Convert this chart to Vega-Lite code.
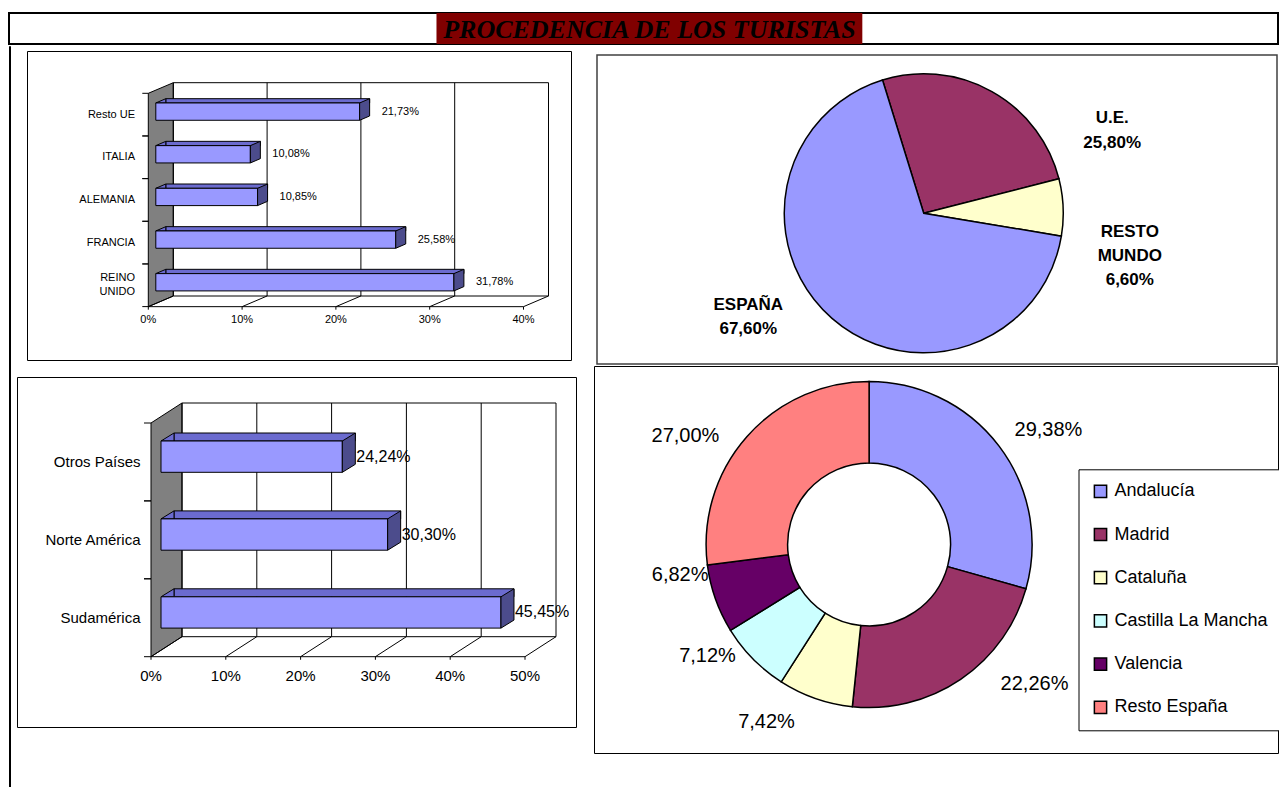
{
  "$schema": "https://vega.github.io/schema/vega-lite/v6.json",
  "padding": {"left": 8, "top": 12, "right": 0, "bottom": 0},
  "background": "white",
  "config": {
    "view": {"stroke": null},
    "font": "Liberation Sans",
    "concat": {"spacing": 0},
    "locale": {"number": {"decimal": ",", "thousands": ".", "grouping": [3], "currency": ["", " €"]}},
    "axis": {"disable": true}
  },
  "datasets": {
    "titulo": [{"titulo": "PROCEDENCIA DE LOS TURISTAS"}],
    "europa": [
      {"pais": "Resto UE", "pct": 0.2173},
      {"pais": "ITALIA", "pct": 0.1008},
      {"pais": "ALEMANIA", "pct": 0.1085},
      {"pais": "FRANCIA", "pct": 0.2558},
      {"pais": "REINO UNIDO", "pct": 0.3178}
    ],
    "marcas_eu": [{"v": 0}, {"v": 0.1}, {"v": 0.2}, {"v": 0.3}, {"v": 0.4}],
    "america": [
      {"zona": "Otros Países", "pct": 0.2424},
      {"zona": "Norte América", "pct": 0.3030},
      {"zona": "Sudamérica", "pct": 0.4545}
    ],
    "marcas_am": [{"v": 0}, {"v": 0.1}, {"v": 0.2}, {"v": 0.3}, {"v": 0.4}, {"v": 0.5}],
    "procedencia": [
      {"origen": "U.E.", "pct": 0.258, "orden": 1},
      {"origen": "RESTO MUNDO", "pct": 0.066, "orden": 2},
      {"origen": "ESPAÑA", "pct": 0.676, "orden": 3}
    ],
    "espana": [
      {"comunidad": "Andalucía", "pct": 0.2938, "orden": 1},
      {"comunidad": "Madrid", "pct": 0.2226, "orden": 2},
      {"comunidad": "Cataluña", "pct": 0.0742, "orden": 3},
      {"comunidad": "Castilla La Mancha", "pct": 0.0712, "orden": 4},
      {"comunidad": "Valencia", "pct": 0.0682, "orden": 5},
      {"comunidad": "Resto España", "pct": 0.27, "orden": 6}
    ]
  },
  "spacing": 0,
  "resolve": {"scale": {"x": "independent", "y": "independent", "color": "independent", "theta": "independent"}, "legend": {"color": "independent"}},
  "vconcat": [
    {
      "width": 1269, "height": 31,
      "view": {"stroke": "black", "strokeWidth": 2},
      "data": {"name": "titulo"},
      "encoding": {"x": {"field": "titulo", "type": "nominal", "axis": null, "scale": {"paddingInner": 0, "paddingOuter": 0.99, "align": 0.507}}},
      "layer": [
        {"mark": {"type": "rect", "fill": "#800000"}},
        {"mark": {"type": "text", "font": "Liberation Serif", "fontSize": 26, "fontWeight": "bold", "fontStyle": "italic", "color": "black", "baseline": "middle", "dy": 1}, "encoding": {"text": {"field": "titulo"}}}
      ]
    },
    {
      "spacing": 0,
      "resolve": {"scale": {"x": "independent", "y": "independent", "color": "independent", "theta": "independent"}, "legend": {"color": "independent"}},
      "hconcat": [
        {"width": 1, "height": 741, "view": {"stroke": "black", "strokeWidth": 1}, "data": {"values": [{}]}, "mark": {"type": "rect", "opacity": 0}},
        {
          "spacing": 0,
          "resolve": {"scale": {"x": "independent", "y": "independent", "color": "independent", "theta": "independent"}, "legend": {"color": "independent"}},
          "vconcat": [
            {"width": 1, "height": 4, "data": {"values": [{}]}, "mark": {"type": "rect", "opacity": 0}},
            {
              "spacing": 0,
              "resolve": {"scale": {"x": "independent", "y": "independent", "color": "independent", "theta": "independent"}},
              "hconcat": [
                {"width": 15, "height": 1, "data": {"values": [{}]}, "mark": {"type": "rect", "opacity": 0}},
                {
                  "width": 544, "height": 309,
                  "view": {"stroke": "black", "strokeWidth": 1},
                  "data": {"name": "europa"},
                  "layer": [
                    {"data": {"values": [{}]},
                     "mark": {"type": "point", "shape": "M-7.5,-96.05L17.5,-106.65L17.5,106.65L-7.5,117.35Z", "size": 4, "filled": true, "fill": "#808080", "stroke": "black", "strokeWidth": 1, "opacity": 1},
                     "encoding": {
                       "x": {"datum": 0, "type": "quantitative", "scale": {"type": "linear", "domain": [0, 0.4], "range": [128.8, 504], "nice": false, "zero": false}},
                       "y": {"datum": "ALEMANIA", "type": "nominal", "scale": {"type": "band", "domain": ["Resto UE", "ITALIA", "ALEMANIA", "FRANCIA", "REINO UNIDO"], "range": [31.7, 245], "paddingInner": 0, "paddingOuter": 0}}}},
                    {"data": {"name": "marcas_eu"},
                     "mark": {"type": "rule", "color": "black", "strokeWidth": 1, "xOffset": 17.5, "yOffset": -21.33, "y2Offset": 21.33},
                     "encoding": {
                       "x": {"field": "v", "type": "quantitative", "scale": {"type": "linear", "domain": [0, 0.4], "range": [128.8, 504], "nice": false, "zero": false}},
                       "y": {"datum": "Resto UE", "type": "nominal", "scale": {"type": "band", "domain": ["Resto UE", "ITALIA", "ALEMANIA", "FRANCIA", "REINO UNIDO"], "range": [31.7, 245], "paddingInner": 0, "paddingOuter": 0}},
                       "y2": {"datum": "REINO UNIDO"}}},
                    {"data": {"values": [{}]},
                     "mark": {"type": "rule", "color": "black", "strokeWidth": 1, "xOffset": 17.5, "x2Offset": 17.5, "yOffset": -21.33},
                     "encoding": {
                       "x": {"datum": 0, "type": "quantitative", "scale": {"type": "linear", "domain": [0, 0.4], "range": [128.8, 504], "nice": false, "zero": false}},
                       "x2": {"datum": 0.4},
                       "y": {"datum": "Resto UE", "type": "nominal", "scale": {"type": "band", "domain": ["Resto UE", "ITALIA", "ALEMANIA", "FRANCIA", "REINO UNIDO"], "range": [31.7, 245], "paddingInner": 0, "paddingOuter": 0}}}},
                    {"data": {"values": [{}]},
                     "mark": {"type": "rule", "color": "black", "strokeWidth": 1, "xOffset": -7.5, "x2Offset": -7.5, "yOffset": 32},
                     "encoding": {
                       "x": {"datum": 0, "type": "quantitative", "scale": {"type": "linear", "domain": [0, 0.4], "range": [128.8, 504], "nice": false, "zero": false}},
                       "x2": {"datum": 0.4},
                       "y": {"datum": "REINO UNIDO", "type": "nominal", "scale": {"type": "band", "domain": ["Resto UE", "ITALIA", "ALEMANIA", "FRANCIA", "REINO UNIDO"], "range": [31.7, 245], "paddingInner": 0, "paddingOuter": 0}}}},
                    {"data": {"values": [{}]},
                     "mark": {"type": "rule", "color": "black", "strokeWidth": 1, "xOffset": 17.5, "x2Offset": 17.5, "yOffset": 21.33},
                     "encoding": {
                       "x": {"datum": 0, "type": "quantitative", "scale": {"type": "linear", "domain": [0, 0.4], "range": [128.8, 504], "nice": false, "zero": false}},
                       "x2": {"datum": 0.4},
                       "y": {"datum": "REINO UNIDO", "type": "nominal", "scale": {"type": "band", "domain": ["Resto UE", "ITALIA", "ALEMANIA", "FRANCIA", "REINO UNIDO"], "range": [31.7, 245], "paddingInner": 0, "paddingOuter": 0}}}},
                    {"data": {"name": "marcas_eu"},
                     "mark": {"type": "point", "shape": "M-7.5,32L17.5,21.33M-7.5,32L-7.5,35", "size": 4, "filled": false, "stroke": "black", "strokeWidth": 1, "opacity": 1},
                     "encoding": {
                       "x": {"field": "v", "type": "quantitative", "scale": {"type": "linear", "domain": [0, 0.4], "range": [128.8, 504], "nice": false, "zero": false}},
                       "y": {"datum": "REINO UNIDO", "type": "nominal", "scale": {"type": "band", "domain": ["Resto UE", "ITALIA", "ALEMANIA", "FRANCIA", "REINO UNIDO"], "range": [31.7, 245], "paddingInner": 0, "paddingOuter": 0}}}},
                    {"data": {"name": "marcas_eu"},
                     "mark": {"type": "text", "align": "center", "baseline": "middle", "dx": -7.5, "yOffset": 45.3, "fontSize": 11, "color": "black"},
                     "encoding": {
                       "x": {"field": "v", "type": "quantitative", "scale": {"type": "linear", "domain": [0, 0.4], "range": [128.8, 504], "nice": false, "zero": false}},
                       "y": {"datum": "REINO UNIDO", "type": "nominal", "scale": {"type": "band", "domain": ["Resto UE", "ITALIA", "ALEMANIA", "FRANCIA", "REINO UNIDO"], "range": [31.7, 245], "paddingInner": 0, "paddingOuter": 0}},
                       "text": {"field": "v", "type": "quantitative", "format": ".0%"}}},
                    {"mark": {"type": "point", "shape": "M-13.5,-10.73L-7.5,-10.73M-13.5,31.93L-7.5,31.93", "size": 4, "filled": false, "stroke": "black", "strokeWidth": 1, "opacity": 1},
                     "encoding": {
                       "x": {"datum": 0, "type": "quantitative", "scale": {"type": "linear", "domain": [0, 0.4], "range": [128.8, 504], "nice": false, "zero": false}},
                       "y": {"field": "pais", "type": "nominal", "scale": {"type": "band", "domain": ["Resto UE", "ITALIA", "ALEMANIA", "FRANCIA", "REINO UNIDO"], "range": [31.7, 245], "paddingInner": 0, "paddingOuter": 0}}}},
                    {"transform": [{"filter": "datum.pais !== 'REINO UNIDO'"}],
                     "mark": {"type": "text", "align": "right", "baseline": "middle", "dx": -20.8, "yOffset": 10.6, "fontSize": 11, "color": "black"},
                     "encoding": {
                       "x": {"datum": 0, "type": "quantitative", "scale": {"type": "linear", "domain": [0, 0.4], "range": [128.8, 504], "nice": false, "zero": false}},
                       "y": {"field": "pais", "type": "nominal", "scale": {"type": "band", "domain": ["Resto UE", "ITALIA", "ALEMANIA", "FRANCIA", "REINO UNIDO"], "range": [31.7, 245], "paddingInner": 0, "paddingOuter": 0}},
                       "text": {"field": "pais", "type": "nominal"}}},
                    {"transform": [{"filter": "datum.pais === 'REINO UNIDO'"}],
                     "mark": {"type": "text", "align": "right", "baseline": "middle", "dx": -20.8, "dy": -7, "yOffset": 10.6, "fontSize": 11, "lineBreak": " ", "lineHeight": 13.4, "color": "black"},
                     "encoding": {
                       "x": {"datum": 0, "type": "quantitative", "scale": {"type": "linear", "domain": [0, 0.4], "range": [128.8, 504], "nice": false, "zero": false}},
                       "y": {"field": "pais", "type": "nominal", "scale": {"type": "band", "domain": ["Resto UE", "ITALIA", "ALEMANIA", "FRANCIA", "REINO UNIDO"], "range": [31.7, 245], "paddingInner": 0, "paddingOuter": 0}},
                       "text": {"field": "pais", "type": "nominal"}}},
                    {"mark": {"type": "bar", "size": 4.3, "xOffset": 10, "x2Offset": 10, "yOffset": -3.2, "fill": "#6B6BCF", "stroke": "black", "strokeWidth": 1},
                     "encoding": {
                       "x": {"field": "pct", "type": "quantitative", "scale": {"type": "linear", "domain": [0, 0.4], "range": [128.8, 504], "nice": false, "zero": false}},
                       "y": {"field": "pais", "type": "nominal", "scale": {"type": "band", "domain": ["Resto UE", "ITALIA", "ALEMANIA", "FRANCIA", "REINO UNIDO"], "range": [31.7, 245], "paddingInner": 0, "paddingOuter": 0}}}},
                    {"mark": {"type": "point", "shape": "M0,-8.65L10,-12.95L10,-8.65Z", "size": 4, "filled": true, "fill": "#6B6BCF", "stroke": "black", "strokeWidth": 1, "opacity": 1, "yOffset": 7.6},
                     "encoding": {
                       "x": {"datum": 0, "type": "quantitative", "scale": {"type": "linear", "domain": [0, 0.4], "range": [128.8, 504], "nice": false, "zero": false}},
                       "y": {"field": "pais", "type": "nominal", "scale": {"type": "band", "domain": ["Resto UE", "ITALIA", "ALEMANIA", "FRANCIA", "REINO UNIDO"], "range": [31.7, 245], "paddingInner": 0, "paddingOuter": 0}}}},
                    {"mark": {"type": "bar", "size": 17.3, "yOffset": 7.6, "fill": "#9999FF", "stroke": "black", "strokeWidth": 1},
                     "encoding": {
                       "x": {"field": "pct", "type": "quantitative", "scale": {"type": "linear", "domain": [0, 0.4], "range": [128.8, 504], "nice": false, "zero": false}},
                       "y": {"field": "pais", "type": "nominal", "scale": {"type": "band", "domain": ["Resto UE", "ITALIA", "ALEMANIA", "FRANCIA", "REINO UNIDO"], "range": [31.7, 245], "paddingInner": 0, "paddingOuter": 0}}}},
                    {"mark": {"type": "point", "shape": "M0,-8.65L10,-12.95L10,4.35L0,8.65Z", "size": 4, "filled": true, "fill": "#4C4C8C", "stroke": "black", "strokeWidth": 1, "opacity": 1, "yOffset": 7.6},
                     "encoding": {
                       "x": {"field": "pct", "type": "quantitative", "scale": {"type": "linear", "domain": [0, 0.4], "range": [128.8, 504], "nice": false, "zero": false}},
                       "y": {"field": "pais", "type": "nominal", "scale": {"type": "band", "domain": ["Resto UE", "ITALIA", "ALEMANIA", "FRANCIA", "REINO UNIDO"], "range": [31.7, 245], "paddingInner": 0, "paddingOuter": 0}}}},
                    {"mark": {"type": "text", "align": "left", "baseline": "middle", "dx": 22, "yOffset": 7.6, "fontSize": 11, "color": "black"},
                     "encoding": {
                       "x": {"field": "pct", "type": "quantitative", "scale": {"type": "linear", "domain": [0, 0.4], "range": [128.8, 504], "nice": false, "zero": false}},
                       "y": {"field": "pais", "type": "nominal", "scale": {"type": "band", "domain": ["Resto UE", "ITALIA", "ALEMANIA", "FRANCIA", "REINO UNIDO"], "range": [31.7, 245], "paddingInner": 0, "paddingOuter": 0}},
                       "text": {"field": "pct", "type": "quantitative", "format": ".2%"}}}
                  ]
                }
              ]
            },
            {"width": 1, "height": 15, "data": {"values": [{}]}, "mark": {"type": "rect", "opacity": 0}},
            {
              "spacing": 0,
              "resolve": {"scale": {"x": "independent", "y": "independent", "color": "independent", "theta": "independent"}},
              "hconcat": [
                {"width": 5, "height": 1, "data": {"values": [{}]}, "mark": {"type": "rect", "opacity": 0}},
                {
                  "width": 559, "height": 350,
                  "view": {"stroke": "black", "strokeWidth": 1},
                  "data": {"name": "america"},
                  "layer": [
                    {"data": {"values": [{}]},
                     "mark": {"type": "point", "shape": "M-10,-96.85L21,-116.85L21,116.85L-10,136.85Z", "size": 4, "filled": true, "fill": "#808080", "stroke": "black", "strokeWidth": 1, "opacity": 1},
                     "encoding": {
                       "x": {"datum": 0, "type": "quantitative", "scale": {"type": "linear", "domain": [0, 0.5], "range": [144, 518], "nice": false, "zero": false}},
                       "y": {"datum": "Norte América", "type": "nominal", "scale": {"type": "band", "domain": ["Otros Países", "Norte América", "Sudamérica"], "range": [26, 259.7], "paddingInner": 0, "paddingOuter": 0}}}},
                    {"data": {"name": "marcas_am"},
                     "mark": {"type": "rule", "color": "black", "strokeWidth": 1, "xOffset": 21, "yOffset": -38.95, "y2Offset": 38.95},
                     "encoding": {
                       "x": {"field": "v", "type": "quantitative", "scale": {"type": "linear", "domain": [0, 0.5], "range": [144, 518], "nice": false, "zero": false}},
                       "y": {"datum": "Otros Países", "type": "nominal", "scale": {"type": "band", "domain": ["Otros Países", "Norte América", "Sudamérica"], "range": [26, 259.7], "paddingInner": 0, "paddingOuter": 0}},
                       "y2": {"datum": "Sudamérica"}}},
                    {"data": {"values": [{}]},
                     "mark": {"type": "rule", "color": "black", "strokeWidth": 1, "xOffset": 21, "x2Offset": 21, "yOffset": -38.95},
                     "encoding": {
                       "x": {"datum": 0, "type": "quantitative", "scale": {"type": "linear", "domain": [0, 0.5], "range": [144, 518], "nice": false, "zero": false}},
                       "x2": {"datum": 0.5},
                       "y": {"datum": "Otros Países", "type": "nominal", "scale": {"type": "band", "domain": ["Otros Países", "Norte América", "Sudamérica"], "range": [26, 259.7], "paddingInner": 0, "paddingOuter": 0}}}},
                    {"data": {"values": [{}]},
                     "mark": {"type": "rule", "color": "black", "strokeWidth": 1, "xOffset": -10, "x2Offset": -10, "yOffset": 58.95},
                     "encoding": {
                       "x": {"datum": 0, "type": "quantitative", "scale": {"type": "linear", "domain": [0, 0.5], "range": [144, 518], "nice": false, "zero": false}},
                       "x2": {"datum": 0.5},
                       "y": {"datum": "Sudamérica", "type": "nominal", "scale": {"type": "band", "domain": ["Otros Países", "Norte América", "Sudamérica"], "range": [26, 259.7], "paddingInner": 0, "paddingOuter": 0}}}},
                    {"data": {"values": [{}]},
                     "mark": {"type": "rule", "color": "black", "strokeWidth": 1, "xOffset": 21, "x2Offset": 21, "yOffset": 38.95},
                     "encoding": {
                       "x": {"datum": 0, "type": "quantitative", "scale": {"type": "linear", "domain": [0, 0.5], "range": [144, 518], "nice": false, "zero": false}},
                       "x2": {"datum": 0.5},
                       "y": {"datum": "Sudamérica", "type": "nominal", "scale": {"type": "band", "domain": ["Otros Países", "Norte América", "Sudamérica"], "range": [26, 259.7], "paddingInner": 0, "paddingOuter": 0}}}},
                    {"data": {"name": "marcas_am"},
                     "mark": {"type": "point", "shape": "M-10,58.95L21,38.95M-10,58.95L-10,62", "size": 4, "filled": false, "stroke": "black", "strokeWidth": 1, "opacity": 1},
                     "encoding": {
                       "x": {"field": "v", "type": "quantitative", "scale": {"type": "linear", "domain": [0, 0.5], "range": [144, 518], "nice": false, "zero": false}},
                       "y": {"datum": "Sudamérica", "type": "nominal", "scale": {"type": "band", "domain": ["Otros Países", "Norte América", "Sudamérica"], "range": [26, 259.7], "paddingInner": 0, "paddingOuter": 0}}}},
                    {"data": {"name": "marcas_am"},
                     "mark": {"type": "text", "align": "center", "baseline": "middle", "dx": -10, "yOffset": 78.25, "fontSize": 15, "color": "black"},
                     "encoding": {
                       "x": {"field": "v", "type": "quantitative", "scale": {"type": "linear", "domain": [0, 0.5], "range": [144, 518], "nice": false, "zero": false}},
                       "y": {"datum": "Sudamérica", "type": "nominal", "scale": {"type": "band", "domain": ["Otros Países", "Norte América", "Sudamérica"], "range": [26, 259.7], "paddingInner": 0, "paddingOuter": 0}},
                       "text": {"field": "v", "type": "quantitative", "format": ".0%"}}},
                    {"mark": {"type": "point", "shape": "M-17,-18.95L-10,-18.95M-17,58.95L-10,58.95", "size": 4, "filled": false, "stroke": "black", "strokeWidth": 1, "opacity": 1},
                     "encoding": {
                       "x": {"datum": 0, "type": "quantitative", "scale": {"type": "linear", "domain": [0, 0.5], "range": [144, 518], "nice": false, "zero": false}},
                       "y": {"field": "zona", "type": "nominal", "scale": {"type": "band", "domain": ["Otros Países", "Norte América", "Sudamérica"], "range": [26, 259.7], "paddingInner": 0, "paddingOuter": 0}}}},
                    {"mark": {"type": "text", "align": "right", "baseline": "middle", "dx": -20.5, "yOffset": 20, "fontSize": 15, "color": "black"},
                     "encoding": {
                       "x": {"datum": 0, "type": "quantitative", "scale": {"type": "linear", "domain": [0, 0.5], "range": [144, 518], "nice": false, "zero": false}},
                       "y": {"field": "zona", "type": "nominal", "scale": {"type": "band", "domain": ["Otros Países", "Norte América", "Sudamérica"], "range": [26, 259.7], "paddingInner": 0, "paddingOuter": 0}},
                       "text": {"field": "zona", "type": "nominal"}}},
                    {"mark": {"type": "bar", "size": 8, "xOffset": 13, "x2Offset": 13, "yOffset": -4.95, "fill": "#6B6BCF", "stroke": "black", "strokeWidth": 1},
                     "encoding": {
                       "x": {"field": "pct", "type": "quantitative", "scale": {"type": "linear", "domain": [0, 0.5], "range": [144, 518], "nice": false, "zero": false}},
                       "y": {"field": "zona", "type": "nominal", "scale": {"type": "band", "domain": ["Otros Países", "Norte América", "Sudamérica"], "range": [26, 259.7], "paddingInner": 0, "paddingOuter": 0}}}},
                    {"mark": {"type": "point", "shape": "M0,-15.65L13,-23.65L13,-15.65Z", "size": 4, "filled": true, "fill": "#6B6BCF", "stroke": "black", "strokeWidth": 1, "opacity": 1, "yOffset": 14.7},
                     "encoding": {
                       "x": {"datum": 0, "type": "quantitative", "scale": {"type": "linear", "domain": [0, 0.5], "range": [144, 518], "nice": false, "zero": false}},
                       "y": {"field": "zona", "type": "nominal", "scale": {"type": "band", "domain": ["Otros Países", "Norte América", "Sudamérica"], "range": [26, 259.7], "paddingInner": 0, "paddingOuter": 0}}}},
                    {"mark": {"type": "bar", "size": 31.3, "yOffset": 14.7, "fill": "#9999FF", "stroke": "black", "strokeWidth": 1},
                     "encoding": {
                       "x": {"field": "pct", "type": "quantitative", "scale": {"type": "linear", "domain": [0, 0.5], "range": [144, 518], "nice": false, "zero": false}},
                       "y": {"field": "zona", "type": "nominal", "scale": {"type": "band", "domain": ["Otros Países", "Norte América", "Sudamérica"], "range": [26, 259.7], "paddingInner": 0, "paddingOuter": 0}}}},
                    {"mark": {"type": "point", "shape": "M0,-15.65L13,-23.65L13,7.65L0,15.65Z", "size": 4, "filled": true, "fill": "#4C4C8C", "stroke": "black", "strokeWidth": 1, "opacity": 1, "yOffset": 14.7},
                     "encoding": {
                       "x": {"field": "pct", "type": "quantitative", "scale": {"type": "linear", "domain": [0, 0.5], "range": [144, 518], "nice": false, "zero": false}},
                       "y": {"field": "zona", "type": "nominal", "scale": {"type": "band", "domain": ["Otros Países", "Norte América", "Sudamérica"], "range": [26, 259.7], "paddingInner": 0, "paddingOuter": 0}}}},
                    {"mark": {"type": "text", "align": "left", "baseline": "middle", "dx": 14, "yOffset": 14.7, "fontSize": 16, "color": "black"},
                     "encoding": {
                       "x": {"field": "pct", "type": "quantitative", "scale": {"type": "linear", "domain": [0, 0.5], "range": [144, 518], "nice": false, "zero": false}},
                       "y": {"field": "zona", "type": "nominal", "scale": {"type": "band", "domain": ["Otros Países", "Norte América", "Sudamérica"], "range": [26, 259.7], "paddingInner": 0, "paddingOuter": 0}},
                       "text": {"field": "pct", "type": "quantitative", "format": ".2%"}}}
                  ]
                }
              ]
            }
          ]
        },
        {"width": 16, "height": 1, "data": {"values": [{}]}, "mark": {"type": "rect", "opacity": 0}},
        {
          "spacing": 0,
          "resolve": {"scale": {"x": "independent", "y": "independent", "color": "independent", "theta": "independent"}, "legend": {"color": "independent"}},
          "vconcat": [
            {"width": 1, "height": 8, "data": {"values": [{}]}, "mark": {"type": "rect", "opacity": 0}},
            {
              "spacing": 0,
              "resolve": {"scale": {"x": "independent", "y": "independent", "color": "independent", "theta": "independent"}, "legend": {"color": "independent"}},
              "hconcat": [
                {"width": 2, "height": 1, "data": {"values": [{}]}, "mark": {"type": "rect", "opacity": 0}},
                {
                  "width": 680, "height": 309,
                  "view": {"stroke": "#404040", "strokeWidth": 1.5},
                  "data": {"name": "procedencia"},
                  "encoding": {
                    "theta": {"field": "pct", "type": "quantitative", "stack": true, "scale": {"range": [-0.3, 5.9832]}},
                    "order": {"field": "orden", "type": "quantitative"}
                  },
                  "layer": [
                    {"mark": {"type": "arc", "outerRadius": 139.5, "stroke": "black", "strokeWidth": 1.5, "xOffset": -13.25, "yOffset": 3.75},
                     "encoding": {"color": {"field": "origen", "type": "nominal", "scale": {"domain": ["U.E.", "RESTO MUNDO", "ESPAÑA"], "range": ["#993366", "#FFFFCC", "#9999FF"]}, "legend": null}}},
                    {"transform": [{"filter": "datum.origen === 'U.E.'"}],
                     "mark": {"type": "text", "radius": 205.8, "thetaOffset": 0.6467, "xOffset": -13.25, "yOffset": 3.75, "dy": -12.3, "fontSize": 17, "fontWeight": "bold", "color": "black", "align": "center", "baseline": "middle"},
                     "encoding": {"text": {"field": "origen", "type": "nominal"}}},
                    {"transform": [{"filter": "datum.origen === 'U.E.'"}],
                     "mark": {"type": "text", "radius": 205.8, "thetaOffset": 0.6467, "xOffset": -13.25, "yOffset": 3.75, "dy": 12.4, "fontSize": 17, "fontWeight": "bold", "color": "black", "align": "center", "baseline": "middle"},
                     "encoding": {"text": {"field": "pct", "type": "quantitative", "format": ".2%"}}},
                    {"transform": [{"filter": "datum.origen === 'RESTO MUNDO'"}],
                     "mark": {"type": "text", "radius": 210.4, "thetaOffset": 1.8677, "xOffset": -13.25, "yOffset": 3.75, "dy": -24.1, "lineBreak": " ", "lineHeight": 24, "fontSize": 17, "fontWeight": "bold", "color": "black", "align": "center", "baseline": "middle"},
                     "encoding": {"text": {"field": "origen", "type": "nominal"}}},
                    {"transform": [{"filter": "datum.origen === 'RESTO MUNDO'"}],
                     "mark": {"type": "text", "radius": 210.4, "thetaOffset": 1.8677, "xOffset": -13.25, "yOffset": 3.75, "dy": 24.2, "fontSize": 17, "fontWeight": "bold", "color": "black", "align": "center", "baseline": "middle"},
                     "encoding": {"text": {"field": "pct", "type": "quantitative", "format": ".2%"}}},
                    {"transform": [{"filter": "datum.origen === 'ESPAÑA'"}],
                     "mark": {"type": "text", "radius": 204, "thetaOffset": 2.3537, "xOffset": -13.25, "yOffset": 3.75, "dy": -12, "fontSize": 17, "fontWeight": "bold", "color": "black", "align": "center", "baseline": "middle"},
                     "encoding": {"text": {"field": "origen", "type": "nominal"}}},
                    {"transform": [{"filter": "datum.origen === 'ESPAÑA'"}],
                     "mark": {"type": "text", "radius": 204, "thetaOffset": 2.3537, "xOffset": -13.25, "yOffset": 3.75, "dy": 12, "fontSize": 17, "fontWeight": "bold", "color": "black", "align": "center", "baseline": "middle"},
                     "encoding": {"text": {"field": "pct", "type": "quantitative", "format": ".2%"}}}
                  ]
                }
              ]
            },
            {
              "width": 684, "height": 387,
              "view": {"stroke": "black", "strokeWidth": 1},
              "data": {"name": "espana"},
              "encoding": {
                "theta": {"field": "pct", "type": "quantitative", "stack": true},
                "order": {"field": "orden", "type": "quantitative"}
              },
              "layer": [
                {"mark": {"type": "arc", "outerRadius": 163, "innerRadius": 81.5, "stroke": "black", "strokeWidth": 1.5, "xOffset": -66.9, "yOffset": -15},
                 "encoding": {"color": {"field": "comunidad", "type": "nominal",
                   "scale": {"domain": ["Andalucía", "Madrid", "Cataluña", "Castilla La Mancha", "Valencia", "Resto España"], "range": ["#9999FF", "#993366", "#FFFFCC", "#CCFFFF", "#660066", "#FF8080"]},
                   "legend": {"disable": false, "title": null, "orient": "none", "legendX": 484.5, "legendY": 103.3, "direction": "vertical", "strokeColor": "black", "fillColor": "white", "padding": 13, "symbolType": "square", "symbolSize": 150, "symbolStrokeColor": "black", "symbolStrokeWidth": 1.5, "symbolOpacity": 1, "labelFontSize": 18, "labelFont": "Liberation Sans", "labelColor": "black", "labelOffset": 5, "rowPadding": 23.2, "labelLimit": 300}}}},
                {"transform": [{"filter": "datum.comunidad === 'Andalucía'"}],
                 "mark": {"type": "text", "radius": 212.8, "thetaOffset": 0.0797, "xOffset": -66.9, "yOffset": -15, "fontSize": 20, "color": "black", "align": "center", "baseline": "middle"},
                 "encoding": {"text": {"field": "pct", "type": "quantitative", "format": ".2%"}}},
                {"transform": [{"filter": "datum.comunidad === 'Madrid'"}],
                 "mark": {"type": "text", "radius": 216.4, "thetaOffset": 1.572, "xOffset": -66.9, "yOffset": -15, "fontSize": 20, "color": "black", "align": "center", "baseline": "middle"},
                 "encoding": {"text": {"field": "pct", "type": "quantitative", "format": ".2%"}}},
                {"transform": [{"filter": "datum.comunidad === 'Cataluña'"}],
                 "mark": {"type": "text", "radius": 204.8, "thetaOffset": 3.4333, "xOffset": -66.9, "yOffset": -15, "fontSize": 20, "color": "black", "align": "center", "baseline": "middle"},
                 "encoding": {"text": {"field": "pct", "type": "quantitative", "format": ".2%"}}},
                {"transform": [{"filter": "datum.comunidad === 'Castilla La Mancha'"}],
                 "mark": {"type": "text", "radius": 196.3, "thetaOffset": 3.8848, "xOffset": -66.9, "yOffset": -15, "fontSize": 20, "color": "black", "align": "center", "baseline": "middle"},
                 "encoding": {"text": {"field": "pct", "type": "quantitative", "format": ".2%"}}},
                {"transform": [{"filter": "datum.comunidad === 'Valencia'"}],
                 "mark": {"type": "text", "radius": 191.4, "thetaOffset": 4.338, "xOffset": -66.9, "yOffset": -15, "fontSize": 20, "color": "black", "align": "center", "baseline": "middle"},
                 "encoding": {"text": {"field": "pct", "type": "quantitative", "format": ".2%"}}},
                {"transform": [{"filter": "datum.comunidad === 'Resto España'"}],
                 "mark": {"type": "text", "radius": 213.3, "thetaOffset": 4.3979, "xOffset": -66.9, "yOffset": -15, "fontSize": 20, "color": "black", "align": "center", "baseline": "middle"},
                 "encoding": {"text": {"field": "pct", "type": "quantitative", "format": ".2%"}}}
              ]
            }
          ]
        }
      ]
    }
  ]
}
